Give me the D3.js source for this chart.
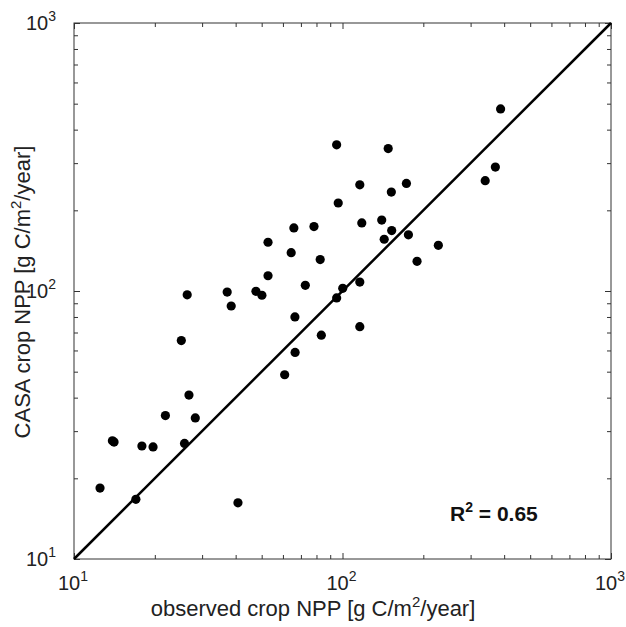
<!DOCTYPE html>
<html>
<head>
<meta charset="utf-8">
<script src="https://cdn.jsdelivr.net/npm/d3@7"></script>
<style>
  body { margin: 0; background: #fff; }
  svg { display: block; font-family: "Liberation Sans", Arial, sans-serif; }
  .axis path { stroke: #333; }
  .axis line { stroke: #333; }
</style>
</head>
<body>
<svg id="chart" width="626" height="627"></svg>
<script>
// observed crop NPP (x) vs CASA crop NPP (y), g C/m2/year
let observed = [12.5, 13.9, 14.1, 17.0, 17.9, 19.7, 21.9, 25.1, 25.8, 26.4, 26.8, 28.3,
                37.2, 38.5, 40.8, 47.6, 50.1, 52.8, 52.8, 60.9, 64.4, 65.9, 66.5, 66.6,
                72.7, 78.3, 82.6, 83.4, 95.1, 96.4, 95.1, 100.2, 116, 116, 116, 118,
                140, 143, 148, 152, 152.5, 173, 176, 189.5, 227.5, 340, 371, 388];
let casa = [18.4, 27.6, 27.3, 16.7, 26.4, 26.2, 34.3, 65.3, 27.0, 96.8, 40.9, 33.6,
            99.1, 87.9, 16.2, 99.7, 96.4, 152, 114, 48.7, 139, 172, 80.0, 59.0,
            105, 174, 131, 68.4, 351, 213, 94.2, 102.3, 249, 108, 73.6, 179.5,
            184, 156, 340, 234, 168, 252, 162, 129, 148, 258, 290, 478];
let decades = [10, 100, 1000];
let exponents = ["1", "2", "3"];
let r2Label = "0.65";

let svg = d3.select("#chart"),
    mLeft = 74, mRight = 611, mTop = 23, mBottom = 559,
    majorLen = 6, minorLen = 4;

let xScale = d3.scaleLog([10, 1000], [mLeft, mRight]),
    yScale = d3.scaleLog([10, 1000], [mBottom, mTop]);

let minors = [];
[10, 100].forEach(function(d){
    for (let k = 2; k <= 9; k++) minors.push(d * k);
});

// frame
svg.append("rect")
    .attr("x", mLeft).attr("y", mTop)
    .attr("width", mRight - mLeft).attr("height", mBottom - mTop)
    .attr("fill", "none").attr("stroke", "#333").attr("stroke-width", 1);

// inward ticks on all four sides
function addTicks(axisFn, scale, vals, len, tx, ty){
    svg.append("g")
        .attr("class", "axis")
        .attr("transform", "translate(" + tx + "," + ty + ")")
        .call(axisFn(scale).tickValues(vals).tickSize(len).tickFormat(""))
        .call(function(g){ g.select(".domain").remove(); });
}
[[minors, minorLen], [decades, majorLen]].forEach(function(p){
    addTicks(d3.axisBottom, xScale, p[0], -p[1], 0, mBottom);
    addTicks(d3.axisTop, xScale, p[0], -p[1], 0, mTop);
    addTicks(d3.axisLeft, yScale, p[0], -p[1], mLeft, 0);
    addTicks(d3.axisRight, yScale, p[0], -p[1], mRight, 0);
});

// tick labels 10^n
decades.forEach(function(d, i){
    let t = svg.append("text")
        .attr("x", xScale(d) - 16).attr("y", 590)
        .attr("font-size", 20).attr("fill", "#222");
    t.append("tspan").text("10");
    t.append("tspan").attr("dy", -9).attr("font-size", 14).text(exponents[i]);

    let u = svg.append("text")
        .attr("x", 26).attr("y", yScale(d) + 7)
        .attr("font-size", 20).attr("fill", "#222");
    u.append("tspan").text("10");
    u.append("tspan").attr("dy", -9).attr("font-size", 14).text(exponents[i]);
});

// 1:1 line
svg.append("line")
    .attr("x1", xScale(10)).attr("y1", yScale(10))
    .attr("x2", xScale(1000)).attr("y2", yScale(1000))
    .attr("stroke", "#000").attr("stroke-width", 2.5);

// points
svg.append("g")
    .selectAll("circle")
    .data(observed)
    .enter()
    .append("circle")
    .attr("cx", function(d){ return xScale(d); })
    .attr("cy", function(d, i){ return yScale(casa[i]); })
    .attr("r", 4.6)
    .attr("fill", "#000");

// R^2 annotation
let r = svg.append("text")
    .attr("x", 450).attr("y", 521)
    .attr("font-size", 21).attr("font-weight", "bold").attr("fill", "#111");
r.append("tspan").text("R");
r.append("tspan").attr("dy", -9).attr("font-size", 14).text("2");
r.append("tspan").attr("dy", 9).text(" = " + r2Label);

// axis titles
let xl = svg.append("text")
    .attr("x", 313).attr("y", 616)
    .attr("text-anchor", "middle").attr("font-size", 22).attr("fill", "#222");
xl.append("tspan").text("observed crop NPP [g C/m");
xl.append("tspan").attr("dy", -9).attr("font-size", 15).text("2");
xl.append("tspan").attr("dy", 9).text("/year]");

let yl = svg.append("text")
    .attr("transform", "translate(30,292) rotate(-90)")
    .attr("text-anchor", "middle").attr("font-size", 22).attr("fill", "#222");
yl.append("tspan").text("CASA crop NPP [g C/m");
yl.append("tspan").attr("dy", -9).attr("font-size", 15).text("2");
yl.append("tspan").attr("dy", 9).text("/year]");
</script>
</body>
</html>
